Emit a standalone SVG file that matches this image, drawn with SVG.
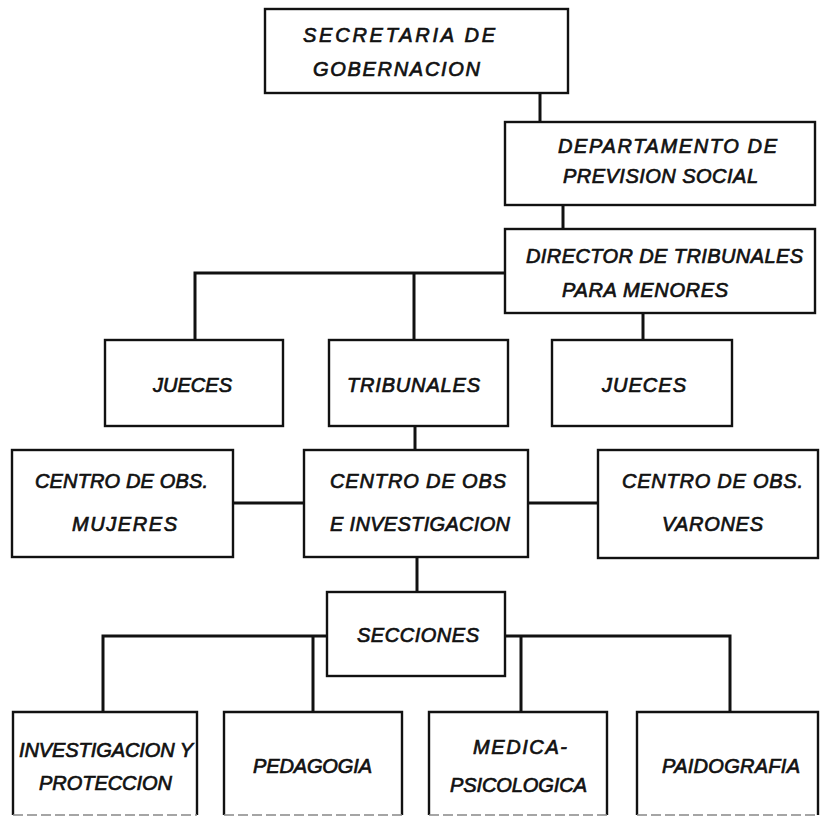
<svg xmlns="http://www.w3.org/2000/svg" width="820" height="817" viewBox="0 0 820 817">
<style>
.box{fill:#fff;stroke:#111;stroke-width:2.4}
.side{fill:none;stroke:#111;stroke-width:2.4}
.low{fill:none;stroke:#888;stroke-width:1.6;stroke-dasharray:10 4}
.con{fill:none;stroke:#111;stroke-width:3}
text{font-family:"Liberation Sans","Arial",sans-serif;font-style:italic;font-size:20px;fill:#111;stroke:#111;stroke-width:0.7}
</style>
<rect width="820" height="817" fill="#fff"/>
<g id="connectors">
<path class="con" d="M540 93V122"/>
<path class="con" d="M563 205V229"/>
<path class="con" d="M505 273H195V340M414 273V340"/>
<path class="con" d="M643 313V340"/>
<path class="con" d="M415 426V450"/>
<path class="con" d="M233 503H304M528 503H598"/>
<path class="con" d="M417 557V592"/>
<path class="con" d="M327 636H103V712M313 636V712"/>
<path class="con" d="M505 636H730V712M521 636V712"/>
</g>
<g id="secretaria">
<rect class="box" x="265" y="9" width="303" height="84"/>
<text x="303" y="42" textLength="192" lengthAdjust="spacing">SECRETARIA DE</text>
<text x="313" y="76" textLength="167" lengthAdjust="spacing">GOBERNACION</text>
</g>
<g id="departamento">
<rect class="box" x="505" y="122" width="310" height="83"/>
<text x="558" y="153" textLength="219" lengthAdjust="spacing">DEPARTAMENTO DE</text>
<text x="563" y="183" textLength="195" lengthAdjust="spacing">PREVISION SOCIAL</text>
</g>
<g id="director">
<rect class="box" x="505" y="229" width="310" height="84"/>
<text x="526" y="263" textLength="277" lengthAdjust="spacing">DIRECTOR DE TRIBUNALES</text>
<text x="562" y="297" textLength="166" lengthAdjust="spacing">PARA MENORES</text>
</g>
<g id="jueces-izq">
<rect class="box" x="105" y="340" width="178" height="86"/>
<text x="153" y="392" textLength="79" lengthAdjust="spacing">JUECES</text>
</g>
<g id="tribunales">
<rect class="box" x="329" y="340" width="179" height="86"/>
<text x="347" y="392" textLength="133" lengthAdjust="spacing">TRIBUNALES</text>
</g>
<g id="jueces-der">
<rect class="box" x="552" y="340" width="180" height="86"/>
<text x="602" y="392" textLength="84" lengthAdjust="spacing">JUECES</text>
</g>
<g id="centro-mujeres">
<rect class="box" x="12" y="450" width="221" height="107"/>
<text x="35" y="488" textLength="173" lengthAdjust="spacing">CENTRO DE OBS.</text>
<text x="72" y="531" textLength="105" lengthAdjust="spacing">MUJERES</text>
</g>
<g id="centro-investigacion">
<rect class="box" x="304" y="450" width="224" height="107"/>
<text x="330" y="488" textLength="176" lengthAdjust="spacing">CENTRO DE OBS</text>
<text x="330" y="531" textLength="180" lengthAdjust="spacing">E INVESTIGACION</text>
</g>
<g id="centro-varones">
<rect class="box" x="598" y="450" width="220" height="108"/>
<text x="622" y="488" textLength="181" lengthAdjust="spacing">CENTRO DE OBS.</text>
<text x="662" y="531" textLength="101" lengthAdjust="spacing">VARONES</text>
</g>
<g id="secciones">
<rect class="box" x="327" y="592" width="178" height="84"/>
<text x="357" y="642" textLength="122" lengthAdjust="spacing">SECCIONES</text>
</g>
<g id="investigacion">
<path class="side" d="M13 815V712H197V815"/>
<path class="low" d="M13 815H197"/>
<text x="19" y="757" textLength="174" lengthAdjust="spacing">INVESTIGACION Y</text>
<text x="39" y="790" textLength="133" lengthAdjust="spacing">PROTECCION</text>
</g>
<g id="pedagogia">
<path class="side" d="M224 815V712H402V815"/>
<path class="low" d="M224 815H402"/>
<text x="253" y="773" textLength="119" lengthAdjust="spacing">PEDAGOGIA</text>
</g>
<g id="medica">
<path class="side" d="M429 815V712H607V815"/>
<path class="low" d="M429 815H607"/>
<text x="473" y="754" textLength="94" lengthAdjust="spacing">MEDICA-</text>
<text x="450" y="792" textLength="137" lengthAdjust="spacing">PSICOLOGICA</text>
</g>
<g id="paidografia">
<path class="side" d="M637 815V712H818V815"/>
<path class="low" d="M637 815H818"/>
<text x="662" y="773" textLength="138" lengthAdjust="spacing">PAIDOGRAFIA</text>
</g>
</svg>
